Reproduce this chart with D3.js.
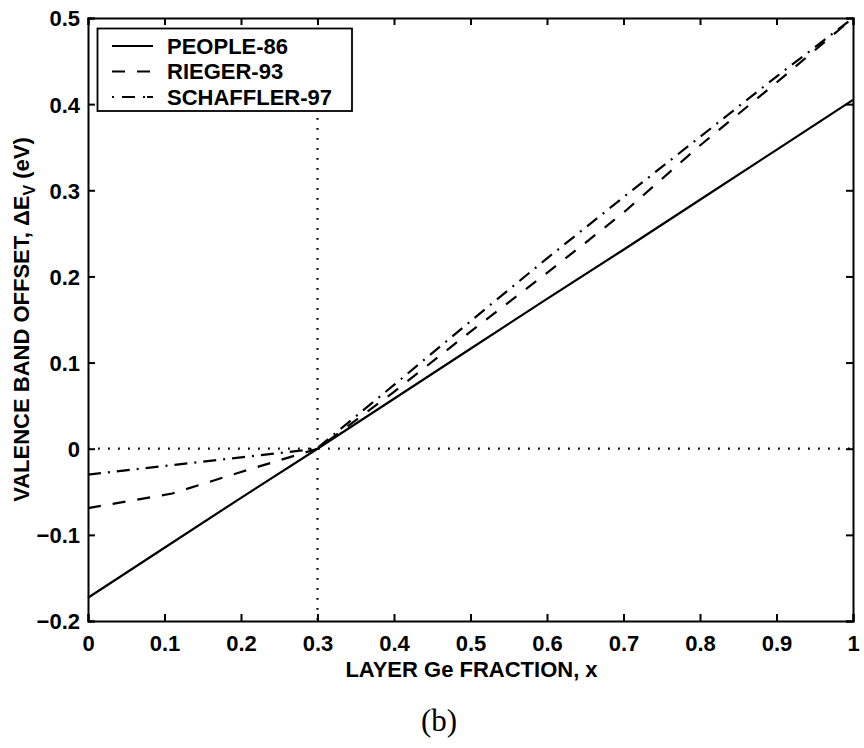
<!DOCTYPE html>
<html>
<head>
<meta charset="utf-8">
<script src="https://cdn.jsdelivr.net/npm/d3@7"></script>
<style>
  html, body { margin: 0; padding: 0; background: #fff; }
  svg { display: block; }
  text { font-family: "Liberation Sans", Arial, Helvetica, sans-serif; font-weight: bold; fill: #000; }
</style>
</head>
<body>
<svg id="chart" width="864" height="748"></svg>
<script>
// Valence band offset vs. layer Ge fraction for three models
const xFraction   = [0, 0.1, 0.2, 0.3, 0.4, 0.5, 0.6, 0.7, 0.8, 0.9, 1.0];
const people86    = [-0.173, -0.115, -0.057, 0.0, 0.058, 0.116, 0.174, 0.231, 0.289, 0.347, 0.405];
const riegerX     = [0, 0.11, 0.2, 0.3, 0.4, 0.5, 0.6, 0.7, 0.8, 0.9, 1.0];
const rieger93    = [-0.069, -0.052, -0.027, 0.0, 0.066, 0.136, 0.204, 0.274, 0.352, 0.425, 0.5];
const schafflerX  = [0, 0.1, 0.2, 0.28, 0.3, 0.4, 0.5, 0.6, 0.7, 0.8, 0.9, 1.0];
const schaffler97 = [-0.030, -0.020, -0.010, -0.002, 0.001, 0.074, 0.148, 0.221, 0.292, 0.362, 0.432, 0.5];
const seriesNames = ["PEOPLE-86", "RIEGER-93", "SCHAFFLER-97"];
const xTicks = [0, 0.1, 0.2, 0.3, 0.4, 0.5, 0.6, 0.7, 0.8, 0.9, 1];
const yTicks = [-0.2, -0.1, 0, 0.1, 0.2, 0.3, 0.4, 0.5];
const refX = 0.3;   // vertical dotted reference
const refY = 0;     // horizontal dotted reference

const svg = d3.select("#chart");
const margin = { left: 88, top: 18, right: 11, bottom: 127 };
const W = 864, H = 748;
const plotW = W - margin.left - margin.right;
const plotH = H - margin.top - margin.bottom;

const x = d3.scaleLinear().domain([0, 1]).range([margin.left, margin.left + plotW]);
const y = d3.scaleLinear().domain([-0.2, 0.5]).range([margin.top + plotH, margin.top]);

const styles = [
  { dash: null },
  { dash: "13,12" },
  { dash: "13,7,2,7" }
];

const series = [
  xFraction.map((v, i) => [v, people86[i]]),
  riegerX.map((v, i) => [v, rieger93[i]]),
  schafflerX.map((v, i) => [v, schaffler97[i]])
];

// dotted reference lines
svg.append("line")
  .attr("x1", x(0)).attr("x2", x(1))
  .attr("y1", y(refY)).attr("y2", y(refY))
  .attr("stroke", "#000").attr("stroke-width", 2.2)
  .attr("stroke-dasharray", "1.8,8.2");
svg.append("line")
  .attr("x1", x(refX)).attr("x2", x(refX))
  .attr("y1", y(0.5)).attr("y2", y(-0.2))
  .attr("stroke", "#000").attr("stroke-width", 2.2)
  .attr("stroke-dasharray", "1.8,8.2");

// data curves
const line = d3.line().x(d => x(d[0])).y(d => y(d[1]));
series.forEach((s, i) => {
  svg.append("path")
    .datum(s)
    .attr("d", line)
    .attr("fill", "none")
    .attr("stroke", "#000")
    .attr("stroke-width", 2.2)
    .attr("stroke-dasharray", styles[i].dash);
});

// axes with inward ticks on all four sides
const tickLen = 7;
const fmt = d => d === 0 ? "0" : d === 1 ? "1" : d3.format(".1f")(d).replace("-", "\u2212");

const axBottom = svg.append("g")
  .attr("transform", `translate(0,${y(-0.2)})`)
  .call(d3.axisBottom(x).tickValues(xTicks).tickSize(-tickLen).tickPadding(14).tickFormat(fmt));
const axTop = svg.append("g")
  .attr("transform", `translate(0,${y(0.5)})`)
  .call(d3.axisTop(x).tickValues(xTicks).tickSize(-tickLen).tickFormat(""));
const axLeft = svg.append("g")
  .attr("transform", `translate(${x(0)},0)`)
  .call(d3.axisLeft(y).tickValues(yTicks).tickSize(-tickLen).tickPadding(8).tickFormat(fmt));
const axRight = svg.append("g")
  .attr("transform", `translate(${x(1)},0)`)
  .call(d3.axisRight(y).tickValues(yTicks).tickSize(-tickLen).tickFormat(""));

[axBottom, axTop, axLeft, axRight].forEach(g => {
  g.select(".domain").attr("stroke", "#000").attr("stroke-width", 2);
  g.selectAll(".tick line").attr("stroke", "#000").attr("stroke-width", 2);
  g.selectAll(".tick text")
    .style("font-size", "22px")
    .style("font-family", "'Liberation Sans', Arial, sans-serif")
    .style("font-weight", "bold")
    .attr("fill", "#000");
});
axBottom.selectAll(".tick text").attr("dy", "0.71em").attr("y", 14);
axLeft.selectAll(".tick text").attr("x", -8).attr("dy", "0.36em");

// axis titles
svg.append("text")
  .attr("x", (x(0) + x(1)) / 2 + 1)
  .attr("y", 677)
  .attr("text-anchor", "middle")
  .style("font-size", "22px")
  .text("LAYER Ge FRACTION, x");

const yl = svg.append("text")
  .attr("transform", `translate(29,${(y(-0.2) + y(0.5)) / 2}) rotate(-90)`)
  .attr("text-anchor", "middle")
  .style("font-size", "22px");
yl.append("tspan").text("VALENCE BAND OFFSET, \u0394E");
yl.append("tspan").attr("dy", 6).style("font-size", "16px").text("V");
yl.append("tspan").attr("dy", -6).text(" (eV)");

// panel label
svg.append("text")
  .attr("x", 439)
  .attr("y", 731)
  .attr("text-anchor", "middle")
  .style("font-family", "'Liberation Serif', 'Times New Roman', serif")
  .style("font-weight", "normal")
  .style("font-size", "31px")
  .text("(b)");

// legend
const legend = svg.append("g");
legend.append("rect")
  .attr("x", 97.5).attr("y", 28.5)
  .attr("width", 254.5).attr("height", 82.5)
  .attr("fill", "#fff").attr("stroke", "#000").attr("stroke-width", 1.8);
const rowY = [46, 71.5, 97];
seriesNames.forEach((name, i) => {
  legend.append("line")
    .attr("x1", 112).attr("x2", 153)
    .attr("y1", rowY[i]).attr("y2", rowY[i])
    .attr("stroke", "#000").attr("stroke-width", 2.2)
    .attr("stroke-dasharray", i === 2 ? "2,8,13,8,2" : styles[i].dash);
  legend.append("text")
    .attr("x", 167)
    .attr("y", rowY[i] + 7.5)
    .style("font-size", "22px")
    .text(name);
});
</script>
</body>
</html>
